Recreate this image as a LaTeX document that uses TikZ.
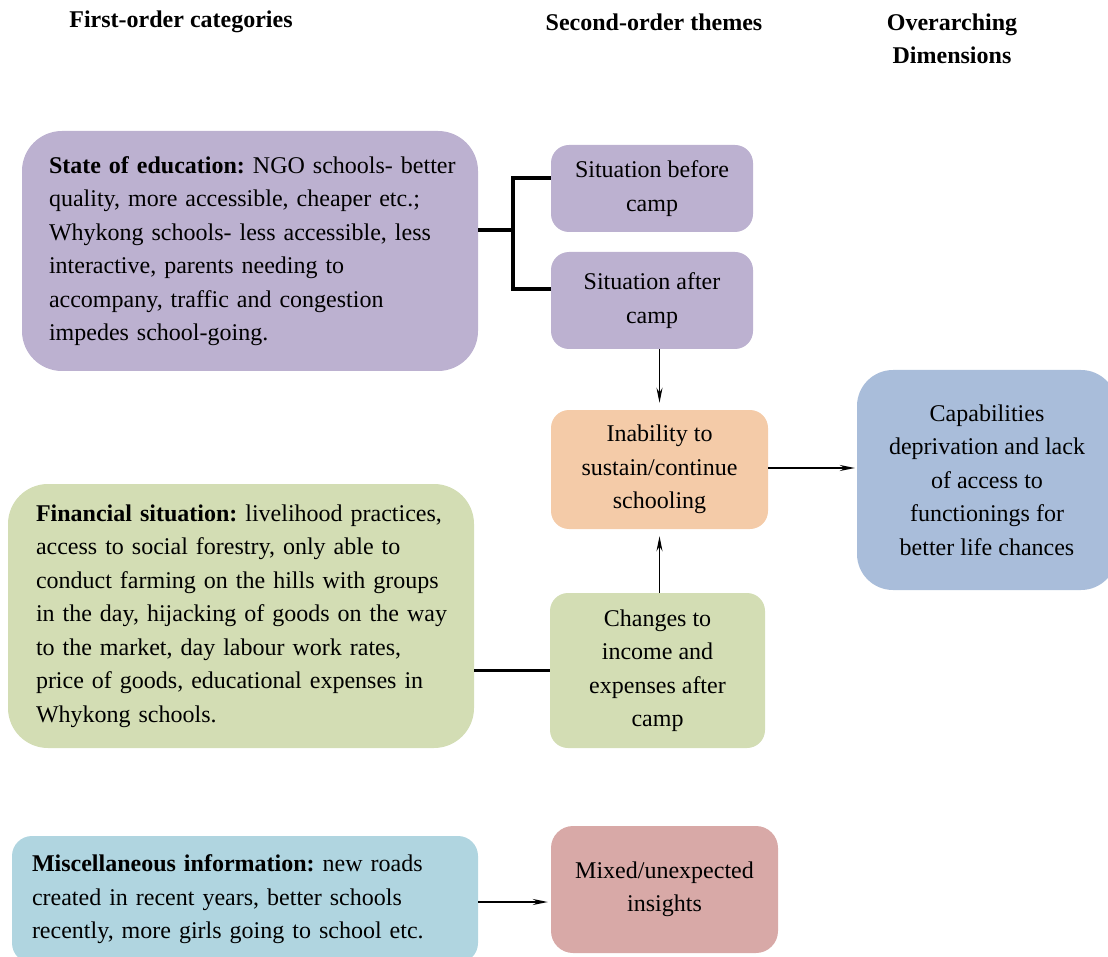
\documentclass[tikz,border=0pt]{standalone}
\usepackage{fontspec}
\setmainfont{Liberation Serif}
\usetikzlibrary{arrows.meta,positioning}

\definecolor{eduPurple}{HTML}{BCB1D0}
\definecolor{schoolOrange}{HTML}{F4CBA8}
\definecolor{capBlue}{HTML}{A9BDDA}
\definecolor{finGreen}{HTML}{D3DDB4}
\definecolor{miscBlue}{HTML}{B0D5E0}
\definecolor{mixedPink}{HTML}{D8A9A7}

\begin{document}
\frenchspacing
\begin{tikzpicture}[x=1pt,y=-1pt,
    panel/.style={rounded corners=18pt, inner sep=0pt,
      font=\fontsize{24}{33.5}\selectfont},
    box/.style={panel, align=center},
    bigbox/.style={panel, rounded corners=40pt,
      execute at begin node={\rightskip=0pt plus 1fil minus 40pt\relax
        \parfillskip=0pt plus 1fil\hyphenpenalty=10000\relax}},
    heading/.style={font=\fontsize{24}{33}\selectfont\bfseries, align=center},
    arrow/.style={line width=1.8pt, -{Stealth[length=15pt,width=6pt]}},
    bracket/.style={line width=3.5pt}]

    \useasboundingbox (0,0) rectangle (1108,957);

    % column headings
    \node[heading] (head_first)  at (181,22)   {First-order categories};
    \node[heading] (head_second) at (654,22)   {Second-order themes};
    \node[heading] (head_dims)   at (952,38.5) {Overarching\\Dimensions};

    % first-order categories
    \node[bigbox, fill=eduPurple, text width=402pt, inner xsep=27pt,
          minimum height=240pt] (education) at (250,251)
      {\textbf{State of education:} NGO schools- better\\
       quality, more accessible, cheaper etc.;\\
       Whykong schools- less accessible, less\\
       interactive, parents needing to\\
       accompany, traffic and congestion\\
       impedes school-going.};

    \node[bigbox, fill=finGreen, text width=410pt, inner xsep=28pt,
          minimum height=264pt] (financial) at (241,616)
      {\textbf{Financial situation:} livelihood practices,\\
       access to social forestry, only able to\\
       conduct farming on the hills with groups\\
       in the day, hijacking of goods on the way\\
       to the market, day labour work rates,\\
       price of goods, educational expenses in\\
       Whykong schools.};

    \node[bigbox, fill=miscBlue, rounded corners=20pt, text width=426pt,
          inner xsep=20pt, minimum height=127pt] (misc) at (245,899.5)
      {\textbf{Miscellaneous information:} new roads\\
       created in recent years, better schools\\
       recently, more girls going to school etc.};

    % second-order themes
    \node[box, fill=eduPurple, minimum width=202pt, minimum height=87pt]
      (before) at (652,188.5) {Situation before\\camp};
    \node[box, fill=eduPurple, minimum width=202pt, minimum height=97pt]
      (after) at (652,300.5) {Situation after\\camp};
    \node[box, fill=schoolOrange, minimum width=217pt, minimum height=119pt]
      (inability) at (659.5,469.5) {Inability to\\sustain/continue\\schooling};
    \node[box, fill=finGreen, minimum width=215pt, minimum height=155pt]
      (changes) at (657.5,670.5) {Changes to\\income and\\expenses after\\camp};
    \node[box, fill=mixedPink, rounded corners=22pt, minimum width=227pt,
          minimum height=127pt] (mixed) at (664.5,889.5)
      {Mixed/unexpected\\insights};

    % overarching dimension
    \node[box, fill=capBlue, rounded corners=36pt, minimum width=260pt,
          minimum height=220pt] (capabilities) at (987,480)
      {Capabilities\\deprivation and lack\\of access to\\functionings for\\better life chances};

    % connectors
    \coordinate (fork) at (513,230);
    \draw[bracket] (fork -| education.east) -- (fork);
    \draw[bracket] ([yshift=10.5pt]before.west) -| (fork)
                   |- ([yshift=11.5pt]after.west);

    \draw[arrow, shorten >=7pt] (after.south -| inability.north) -- (inability.north);
    \draw[arrow, shorten >=7pt] (changes.north -| inability.south) -- (inability.south);
    \draw[arrow, shorten >=2pt] ([yshift=1.5pt]inability.east)
                                -- ([yshift=1.5pt]inability.east -| capabilities.west);
    \draw[bracket] (financial.east |- changes.west) -- (changes.west);
    \draw[arrow, shorten >=3pt] (misc.east |- 0,902) -- (mixed.west |- 0,902);

\end{tikzpicture}
\end{document}
